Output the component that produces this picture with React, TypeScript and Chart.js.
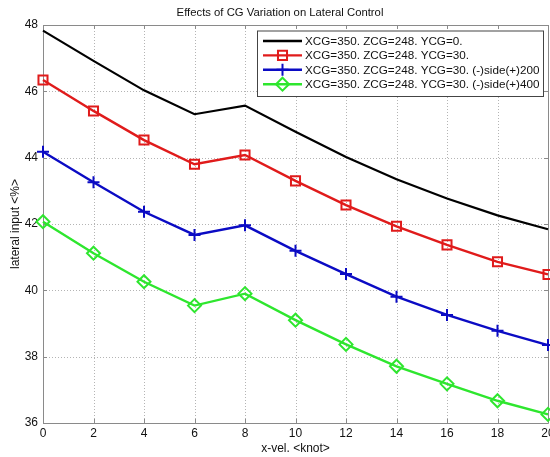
import React, { useEffect, useRef } from 'react';
import { Chart, registerables } from 'chart.js';
Chart.register(...registerables);

const TITLE = 'Effects of CG Variation on Lateral Control';
const X_TITLE = 'x-vel. <knot>';
const Y_TITLE = 'lateral input <%>';

const xValues = [0, 2, 4, 6, 8, 10, 12, 14, 16, 18, 20];
const xTicks = [0, 2, 4, 6, 8, 10, 12, 14, 16, 18, 20];
const yTicks = [36, 38, 40, 42, 44, 46, 48];

const seriesLabels = [
  'XCG=350. ZCG=248. YCG=0.',
  'XCG=350. ZCG=248. YCG=30.',
  'XCG=350. ZCG=248. YCG=30. (-)side(+)200',
  'XCG=350. ZCG=248. YCG=30. (-)side(+)400',
];
const ycg0 = [47.83, 46.92, 46.03, 45.31, 45.57, 44.78, 44.02, 43.35, 42.77, 42.26, 41.84];
const ycg30 = [46.34, 45.41, 44.53, 43.8, 44.08, 43.3, 42.57, 41.93, 41.37, 40.86, 40.48];
const side200 = [44.18, 43.26, 42.37, 41.67, 41.96, 41.19, 40.49, 39.81, 39.26, 38.78, 38.35];
const side400 = [42.07, 41.12, 40.26, 39.54, 39.9, 39.1, 38.37, 37.71, 37.18, 36.67, 36.26];

const seriesValues = [ycg0, ycg30, side200, side400];
const seriesColors = ['#000000', '#e01b1b', '#0b0bc4', '#2ee62e'];
const seriesMarkers: (string | false)[] = [false, 'rect', 'cross', 'rectRot'];
const markerRadius = [0, 6.4, 6, 6.5];

const FONT = '"Liberation Sans", Arial, Helvetica, sans-serif';
const TEXT = '#111111';

function drawMarker(ctx: CanvasRenderingContext2D, style: string | false, x: number, y: number, r: number, color: string) {
  if (!style) return;
  ctx.save();
  ctx.strokeStyle = color;
  ctx.lineWidth = 2;
  ctx.beginPath();
  if (style === 'rect') {
    const s = r * Math.SQRT1_2;
    ctx.rect(x - s, y - s, 2 * s, 2 * s);
  } else if (style === 'cross') {
    ctx.moveTo(x - r, y);
    ctx.lineTo(x + r, y);
    ctx.moveTo(x, y - r);
    ctx.lineTo(x, y + r);
  } else if (style === 'rectRot') {
    ctx.moveTo(x, y - r);
    ctx.lineTo(x + r, y);
    ctx.lineTo(x, y + r);
    ctx.lineTo(x - r, y);
    ctx.closePath();
  }
  ctx.stroke();
  ctx.restore();
}

const decorPlugin = {
  id: 'decor',
  beforeDatasetsDraw(chart: any) {
    const { ctx, chartArea: a } = chart;
    const xs = chart.scales.x;
    const ys = chart.scales.y;
    ctx.save();
    // dotted grid
    ctx.strokeStyle = '#b4b4b4';
    ctx.lineWidth = 1;
    ctx.setLineDash([1, 2]);
    ctx.beginPath();
    xTicks.forEach((v) => {
      const px = Math.round(xs.getPixelForValue(v)) + 0.5;
      ctx.moveTo(px, a.top);
      ctx.lineTo(px, a.bottom);
    });
    yTicks.forEach((v) => {
      const py = Math.round(ys.getPixelForValue(v)) + 0.5;
      ctx.moveTo(a.left, py);
      ctx.lineTo(a.right, py);
    });
    ctx.stroke();
    ctx.setLineDash([]);
    // axes box
    ctx.strokeStyle = '#8a8a8a';
    ctx.beginPath();
    ctx.rect(Math.round(a.left) + 0.5, Math.round(a.top) + 0.5, Math.round(a.right - a.left), Math.round(a.bottom - a.top));
    ctx.stroke();
    const tl = 4;
    ctx.beginPath();
    xTicks.forEach((v) => {
      const px = Math.round(xs.getPixelForValue(v)) + 0.5;
      ctx.moveTo(px, a.bottom);
      ctx.lineTo(px, a.bottom - tl);
      ctx.moveTo(px, a.top);
      ctx.lineTo(px, a.top + tl);
    });
    yTicks.forEach((v) => {
      const py = Math.round(ys.getPixelForValue(v)) + 0.5;
      ctx.moveTo(a.left, py);
      ctx.lineTo(a.left + tl, py);
      ctx.moveTo(a.right, py);
      ctx.lineTo(a.right - tl, py);
    });
    ctx.stroke();
    ctx.restore();
  },
  afterDraw(chart: any) {
    const { ctx } = chart;
    ctx.save();
    // title
    ctx.fillStyle = TEXT;
    ctx.font = `11.3px ${FONT}`;
    ctx.textAlign = 'center';
    ctx.textBaseline = 'middle';
    ctx.fillText(TITLE, 280, 13);

    // legend
    const bx = 257, by = 30.5, bw = 286, bh = 65.5;
    ctx.fillStyle = '#ffffff';
    ctx.fillRect(bx, by, bw, bh);
    ctx.strokeStyle = '#444444';
    ctx.lineWidth = 1;
    ctx.strokeRect(bx + 0.5, by + 0.5, bw, bh);
    ctx.font = `11.7px ${FONT}`;
    ctx.textAlign = 'left';
    ctx.textBaseline = 'middle';
    seriesLabels.forEach((label, i) => {
      const ry = 41 + i * 14.4;
      ctx.strokeStyle = seriesColors[i];
      ctx.lineWidth = 2.4;
      ctx.beginPath();
      ctx.moveTo(263, ry);
      ctx.lineTo(302, ry);
      ctx.stroke();
      drawMarker(ctx, seriesMarkers[i], 282.5, ry, markerRadius[i], seriesColors[i]);
      ctx.fillStyle = TEXT;
      ctx.fillText(label, 305, ry + 0.5);
    });
    ctx.restore();
  },
};

export default function App() {
  const canvasRef = useRef<HTMLCanvasElement | null>(null);

  useEffect(() => {
    if (!canvasRef.current) return;
    const datasets = seriesLabels.map((label, i) => ({
      label,
      data: xValues.map((x, j) => ({ x, y: seriesValues[i][j] })),
      borderColor: seriesColors[i],
      backgroundColor: 'rgba(0,0,0,0)',
      borderWidth: i === 0 ? 2.2 : 2.4,
      pointStyle: seriesMarkers[i] as any,
      pointRadius: markerRadius[i],
      pointHoverRadius: markerRadius[i],
      pointBorderColor: seriesColors[i],
      pointBackgroundColor: 'rgba(0,0,0,0)',
      pointBorderWidth: 2,
      tension: 0,
      clip: false as any,
    }));

    const chart = new Chart(canvasRef.current, {
      type: 'line',
      data: { datasets },
      plugins: [decorPlugin],
      options: {
        animation: false,
        responsive: true,
        maintainAspectRatio: false,
        layout: { padding: { top: 25, right: 22, left: 0, bottom: 0 } },
        plugins: {
          legend: { display: false },
          title: { display: false },
          tooltip: { enabled: false },
        },
        scales: {
          x: {
            type: 'linear',
            min: 0,
            max: 20,
            afterFit: (s: any) => { s.height = 34; },
            ticks: {
              stepSize: 2,
              padding: 3,
              color: TEXT,
              font: { family: FONT, size: 12 },
              maxRotation: 0,
              autoSkip: false,
            },
            grid: { display: false, drawTicks: false },
            border: { display: false },
            title: {
              display: true,
              text: X_TITLE,
              color: TEXT,
              font: { family: FONT, size: 12 },
              padding: { top: 0, bottom: 1 },
            },
          },
          y: {
            type: 'linear',
            min: 36,
            max: 48,
            afterFit: (s: any) => { s.width = 43; },
            ticks: {
              stepSize: 2,
              padding: 5,
              color: TEXT,
              font: { family: FONT, size: 12 },
            },
            grid: { display: false, drawTicks: false },
            border: { display: false },
            title: {
              display: true,
              text: Y_TITLE,
              color: TEXT,
              font: { family: FONT, size: 12 },
              padding: { top: 8, bottom: 0 },
            },
          },
        },
      },
    });
    return () => chart.destroy();
  }, []);

  return (
    <div style={{ position: 'fixed', left: 0, top: 0, width: 550, height: 457, overflow: 'hidden', background: '#fff' }}>
      <div style={{ position: 'relative', width: 570, height: 457 }}>
        <canvas ref={canvasRef} />
      </div>
    </div>
  );
}
